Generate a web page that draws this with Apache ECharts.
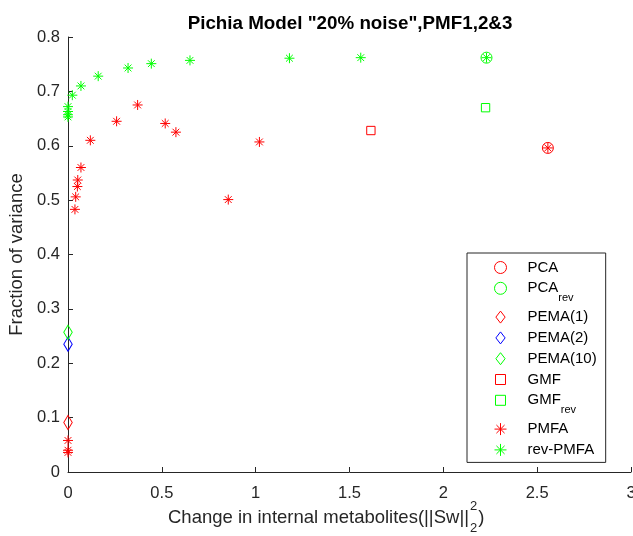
<!DOCTYPE html>
<html>
<head>
<meta charset="utf-8">
<script src="https://cdn.jsdelivr.net/npm/echarts@6/dist/echarts.min.js"></script>
<style>
  html, body { margin: 0; padding: 0; background: #fff; }
  #chart { width: 633px; height: 536px; }
</style>
</head>
<body>
<div id="chart"></div>
<script>
// data: [x, y]
const pca = [[2.557, 0.596]];
const pcaRev = [[2.23, 0.762]];
const pema1 = [[0, 0.091]];
const pema2 = [[0, 0.235]];
const pema10 = [[0, 0.257]];
const gmf = [[1.614, 0.628]];
const gmfRev = [[2.225, 0.670]];
const pmfa = [
  [0, 0.058], [0, 0.040], [0, 0.036],
  [0.037, 0.483], [0.041, 0.506], [0.050, 0.525], [0.052, 0.537],
  [0.069, 0.560], [0.119, 0.610], [0.259, 0.645], [0.371, 0.675],
  [0.518, 0.641], [0.575, 0.625], [0.854, 0.501], [1.02, 0.607],
  [2.557, 0.596]
];
const revPmfa = [
  [0, 0.653], [0, 0.657], [0, 0.663], [0, 0.672],
  [0.023, 0.693], [0.069, 0.710], [0.161, 0.728], [0.32, 0.743],
  [0.444, 0.751], [0.65, 0.757], [1.18, 0.761], [1.56, 0.762],
  [2.23, 0.762]
];
const xTicks = { min: 0, max: 3, interval: 0.5 };
const yTicks = { min: 0, max: 0.8, interval: 0.1 };

const FONT = 'Liberation Sans';
const AX = '#262626';
const starPath = 'path://M0,5L10,5M5,0L5,10M1.6,1.6L8.4,8.4M1.6,8.4L8.4,1.6';
const diamondPath = 'path://M5,0L10,6.5L5,13L0,6.5Z';
const squarePath = 'path://M-1,-1M11,11M0,0L10,0L10,10L0,10Z';

// 获取当前节点
const dom = document.getElementById('chart');
const myEchart = echarts.init(dom);

function mk(name, data, symbol, size, color) {
    return {
        name: name,
        type: 'scatter',
        data: data,
        symbol: symbol,
        symbolSize: size,
        symbolKeepAspect: true,
        clip: false,
        itemStyle: { color: 'rgba(0,0,0,0)', borderColor: color, borderWidth: 1, opacity: 1 },
        emphasis: { disabled: true }
    };
}

// x label with stacked super/subscript
const LBL = 18.5;
const ctx = document.createElement('canvas').getContext('2d');
ctx.font = LBL + 'px "' + FONT + '"';
const xLabelMain = 'Change in internal metabolites(||Sw||';
const wMain = ctx.measureText(xLabelMain).width;
ctx.font = '13px "' + FONT + '"';
const wTwo = ctx.measureText('2').width;
const xl = 168, yl = 519;

const options = {
    animation: false,
    title: {
        text: 'Pichia Model "20% noise",PMF1,2&3',
        left: 345, top: 9, textAlign: 'center',
        textStyle: { fontFamily: FONT, fontSize: 18.8, fontWeight: 'bold', color: '#000' }
    },
    grid: { left: 68, right: 2, top: 37, bottom: 64, outerBoundsMode: 'none' },
    xAxis: {
        type: 'value', min: xTicks.min, max: xTicks.max, interval: xTicks.interval,
        splitLine: { show: false },
        axisLine: { lineStyle: { color: AX, width: 1 } },
        axisTick: { inside: true, length: 5, lineStyle: { color: AX } },
        axisLabel: { color: AX, fontFamily: FONT, fontSize: 16.5, margin: 13 }
    },
    yAxis: {
        type: 'value', min: yTicks.min, max: yTicks.max, interval: yTicks.interval,
        name: 'Fraction of variance', nameLocation: 'middle', nameGap: 39,
        nameTextStyle: { color: AX, fontFamily: FONT, fontSize: LBL },
        splitLine: { show: false },
        axisLine: { show: true, lineStyle: { color: AX, width: 1 } },
        axisTick: { show: true, inside: true, length: 5, lineStyle: { color: AX } },
        axisLabel: { color: AX, fontFamily: FONT, fontSize: 16.5, margin: 8 }
    },
    legend: {
        orient: 'vertical', left: 467, top: 253,
        padding: [7, 9, 5, 27],
        itemWidth: 12, itemHeight: 12, itemGap: 5.8,
        symbolKeepAspect: true,
        borderColor: AX, borderWidth: 1, backgroundColor: '#fff',
        selectedMode: false,
        itemStyle: { borderWidth: 1 },
        textStyle: {
            fontFamily: FONT, fontSize: 15, color: '#000',
            rich: {
                m: { fontFamily: FONT, fontSize: 15, lineHeight: 15, color: '#000', padding: [0, 0, 0, 16] },
                s: { fontFamily: FONT, fontSize: 11, color: '#000', verticalAlign: 'bottom', lineHeight: 31 }
            }
        },
        formatter: function (n) {
            if (n === 'PCA_rev') return '{m|PCA}{s|rev}';
            if (n === 'GMF_rev') return '{m|GMF}{s|rev}';
            return '{m|' + n + '}';
        }
    },
    graphic: [
        { type: 'text', left: xl, top: yl - 11, style: { text: xLabelMain, font: LBL + 'px "' + FONT + '"', fill: AX } },
        { type: 'text', left: xl + wMain + 1, top: yl - 19, style: { text: '2', font: '13px "' + FONT + '"', fill: AX } },
        { type: 'text', left: xl + wMain + 1, top: yl + 3, style: { text: '2', font: '13px "' + FONT + '"', fill: AX } },
        { type: 'text', left: xl + wMain + wTwo + 2, top: yl - 11, style: { text: ')', font: LBL + 'px "' + FONT + '"', fill: AX } }
    ],
    series: [
        mk('PCA', pca, 'circle', 11, '#ff0000'),
        mk('PCA_rev', pcaRev, 'circle', 11, '#00ff00'),
        mk('PEMA(1)', pema1, diamondPath, [11, 14], '#ff0000'),
        mk('PEMA(2)', pema2, diamondPath, [11, 14], '#0000ff'),
        mk('PEMA(10)', pema10, diamondPath, [11, 14], '#00ff00'),
        mk('GMF', gmf, squarePath, 10, '#ff0000'),
        mk('GMF_rev', gmfRev, squarePath, 10, '#00ff00'),
        mk('PMFA', pmfa, starPath, 10, '#ff0000'),
        mk('rev-PMFA', revPmfa, starPath, 10, '#00ff00')
    ]
};
// 设置图表数据
myEchart.setOption(options);
</script>
</body>
</html>
